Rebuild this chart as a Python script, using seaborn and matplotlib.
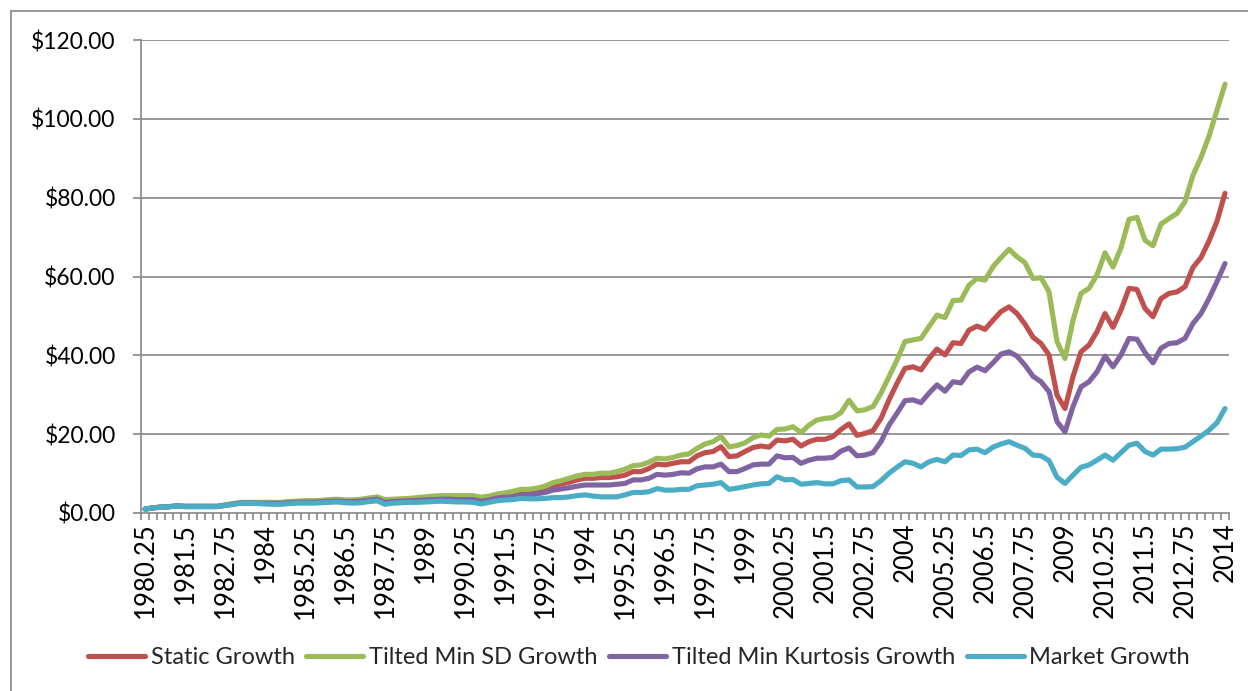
import matplotlib
matplotlib.use("Agg")
import matplotlib.pyplot as plt
from matplotlib.lines import Line2D
from matplotlib.ticker import FixedLocator, FuncFormatter
import seaborn as sns
import pandas as pd

# ---------------- data ----------------
quarters = [1980.25 + 0.25 * k for k in range(136)]
quarter_labels = [f"{q:g}" for q in quarters]

static_growth = [
    1.0, 1.3, 1.5, 1.6, 1.8, 1.7, 1.7, 1.7, 1.7, 1.7,
    2.0, 2.3, 2.6, 2.6, 2.6, 2.6, 2.6, 2.6, 2.8, 2.9,
    3.0, 3.0, 3.1, 3.2, 3.3, 3.2, 3.2, 3.3, 3.6, 3.9,
    3.1, 3.3, 3.4, 3.5, 3.7, 3.9, 4.0, 4.1, 4.1, 4.1,
    4.1, 4.1, 3.7, 4.0, 4.4, 4.7, 5.0, 5.5, 5.5, 5.8,
    6.3, 6.8, 7.4, 7.8, 8.4, 8.8, 8.8, 9.0, 9.0, 9.2,
    9.6, 10.5, 10.5, 11.3, 12.4, 12.2, 12.6, 13.0, 13.0, 14.5,
    15.3, 15.6, 16.8, 14.3, 14.5, 15.6, 16.6, 17.0, 16.7, 18.5,
    18.3, 18.7, 17.0, 18.1, 18.7, 18.7, 19.4, 21.2, 22.6, 19.7,
    20.2, 20.9, 24.0, 28.7, 32.9, 36.7, 37.1, 36.3, 39.2, 41.6,
    40.1, 43.2, 43.0, 46.4, 47.4, 46.6, 48.9, 51.1, 52.3, 50.6,
    47.9, 44.6, 43.0, 40.1, 29.9, 26.5, 34.6, 40.9, 42.6, 46.0,
    50.6, 47.1, 51.5, 57.0, 56.7, 51.9, 49.8, 54.4, 55.7, 56.1,
    57.4, 62.3, 64.8, 69.0, 74.0, 81.1,
]

tilted_min_sd_growth = [
    1.0, 1.3, 1.5, 1.6, 1.8, 1.7, 1.7, 1.7, 1.7, 1.7,
    2.0, 2.4, 2.7, 2.7, 2.7, 2.7, 2.7, 2.7, 2.9, 3.0,
    3.1, 3.1, 3.2, 3.4, 3.5, 3.3, 3.3, 3.5, 3.8, 4.1,
    3.4, 3.5, 3.6, 3.7, 3.9, 4.1, 4.3, 4.4, 4.4, 4.4,
    4.4, 4.4, 4.0, 4.3, 4.8, 5.1, 5.5, 6.0, 6.0, 6.3,
    6.8, 7.7, 8.2, 8.8, 9.4, 9.8, 9.8, 10.1, 10.1, 10.5,
    11.1, 12.0, 12.2, 12.9, 13.9, 13.7, 14.1, 14.7, 15.0, 16.4,
    17.5, 18.1, 19.4, 16.8, 17.1, 17.8, 19.1, 19.8, 19.5, 21.2,
    21.3, 21.9, 20.4, 22.3, 23.6, 24.0, 24.2, 25.5, 28.6, 25.9,
    26.2, 27.0, 30.4, 34.6, 38.8, 43.5, 43.9, 44.3, 47.3, 50.2,
    49.6, 53.9, 54.0, 57.8, 59.5, 59.1, 62.5, 64.8, 66.9, 65.0,
    63.5, 59.5, 59.7, 56.1, 43.5, 39.2, 48.9, 55.7, 57.0, 60.4,
    66.0, 62.4, 67.3, 74.5, 75.0, 69.2, 67.8, 73.3, 74.7, 76.0,
    79.0, 85.7, 90.2, 95.6, 102.2, 108.8,
]

tilted_min_kurtosis_growth = [
    1.0, 1.3, 1.5, 1.6, 1.8, 1.65, 1.65, 1.65, 1.65, 1.65,
    1.95, 2.25, 2.55, 2.55, 2.5, 2.5, 2.45, 2.45, 2.6, 2.7,
    2.75, 2.75, 2.85, 2.95, 3.05, 2.9, 2.9, 3.0, 3.3, 3.5,
    2.7, 2.9, 3.0, 3.1, 3.2, 3.3, 3.4, 3.5, 3.5, 3.4,
    3.4, 3.4, 3.0, 3.3, 3.8, 4.0, 4.1, 4.5, 4.5, 4.9,
    5.2, 5.8, 6.1, 6.4, 6.8, 7.1, 7.1, 7.1, 7.1, 7.3,
    7.5, 8.4, 8.4, 8.8, 9.8, 9.6, 9.8, 10.2, 10.1, 11.2,
    11.7, 11.7, 12.4, 10.5, 10.5, 11.3, 12.2, 12.4, 12.4, 14.5,
    14.0, 14.1, 12.6, 13.4, 13.9, 13.9, 14.1, 15.7, 16.5, 14.5,
    14.7, 15.3, 18.1, 22.3, 25.3, 28.5, 28.7, 28.0, 30.4, 32.5,
    30.9, 33.3, 33.0, 35.8, 37.0, 36.1, 38.1, 40.3, 40.9, 39.8,
    37.5, 34.7, 33.3, 30.8, 23.2, 20.6, 27.0, 32.0, 33.3, 35.8,
    39.8, 37.1, 40.1, 44.3, 44.1, 40.7, 38.1, 41.8, 43.0, 43.2,
    44.3, 48.1, 50.6, 54.4, 58.7, 63.3,
]

market_growth = [
    1.0, 1.3, 1.5, 1.6, 1.8, 1.6, 1.6, 1.6, 1.6, 1.6,
    1.9, 2.2, 2.5, 2.5, 2.4, 2.3, 2.2, 2.2, 2.4, 2.5,
    2.5, 2.5, 2.6, 2.7, 2.8, 2.6, 2.5, 2.6, 2.9, 3.1,
    2.2, 2.5, 2.6, 2.7, 2.7, 2.8, 2.9, 3.0, 2.9, 2.8,
    2.8, 2.7, 2.3, 2.7, 3.1, 3.3, 3.4, 3.7, 3.6, 3.6,
    3.7, 3.9, 3.9, 4.1, 4.4, 4.6, 4.3, 4.1, 4.1, 4.1,
    4.6, 5.2, 5.2, 5.4, 6.2, 5.8, 5.8, 6.0, 6.0, 6.9,
    7.1, 7.3, 7.7, 6.0, 6.3, 6.7, 7.1, 7.4, 7.5, 9.2,
    8.4, 8.5, 7.3, 7.5, 7.7, 7.4, 7.4, 8.2, 8.4, 6.6,
    6.6, 6.7, 8.2, 10.1, 11.6, 13.0, 12.6, 11.7, 13.0, 13.6,
    13.0, 14.7, 14.6, 16.0, 16.2, 15.3, 16.7, 17.5, 18.1, 17.2,
    16.4, 14.7, 14.5, 13.3, 9.1, 7.5, 9.6, 11.6, 12.2, 13.4,
    14.7, 13.4, 15.3, 17.2, 17.7, 15.6, 14.7, 16.2, 16.2, 16.3,
    16.7, 18.1, 19.5, 21.0, 22.9, 26.5,
]

series_names = ["Static Growth", "Tilted Min SD Growth",
                "Tilted Min Kurtosis Growth", "Market Growth"]
series_colors = ["#C0504D", "#9BBB59", "#8064A2", "#4BACC6"]
y_ticks = [0, 20, 40, 60, 80, 100, 120]

# ---------------- frame ----------------
rows = []
for name, vals in zip(series_names,
                      [static_growth, tilted_min_sd_growth,
                       tilted_min_kurtosis_growth, market_growth]):
    for k, v in enumerate(vals):
        rows.append({"pos": k, "quarter": quarter_labels[k], "value": v, "series": name})
df = pd.DataFrame(rows)

sns.set_style("white")
plt.rcParams["font.family"] = ["Lato", "DejaVu Sans"]

W, H = 1248, 691
fig = plt.figure(figsize=(W / 100, H / 100), dpi=100)
ax = fig.add_axes([141 / W, 1 - 513 / H, (1229 - 141) / W, (513 - 40) / H])

grid_col = "#868686"
for yv in y_ticks[1:]:
    ax.axhline(yv, color=grid_col, lw=1.2, zorder=0)

sns.lineplot(data=df, x="pos", y="value", hue="series", hue_order=series_names,
             palette=series_colors, linewidth=3.7, ax=ax, legend=True,
             solid_capstyle="round", solid_joinstyle="round", zorder=3)

n = len(quarters)
ax.set_xlim(-0.5, n - 0.5)
ax.set_ylim(0, 120)

ax.xaxis.set_major_locator(FixedLocator(list(range(0, n, 5))))
ax.set_xticklabels([quarter_labels[k] for k in range(0, n, 5)], rotation=90,
                   fontsize=18.5)
ax.xaxis.set_minor_locator(FixedLocator([k - 0.5 for k in range(n + 1)]))
ax.tick_params(axis="x", which="major", length=0, pad=7, colors="black")
ax.tick_params(axis="x", which="minor", length=5, width=1.2, color=grid_col,
               direction="out", bottom=True)

ax.set_yticks(y_ticks)
ax.yaxis.set_major_formatter(FuncFormatter(lambda v, p: f"${v:.2f}"))
ax.tick_params(axis="y", which="major", length=5.8, width=1.2, color=grid_col,
               labelsize=16.5, pad=12.5, labelcolor="black", left=True)

for s in ["top", "right"]:
    ax.spines[s].set_visible(False)
for s in ["left", "bottom"]:
    ax.spines[s].set_color(grid_col)
    ax.spines[s].set_linewidth(1.2)

ax.set_xlabel("")
ax.set_ylabel("")

handles, labels = ax.get_legend_handles_labels()
ax.get_legend().remove()
fig.legend(handles, labels, loc="center", ncol=4,
           bbox_to_anchor=(639 / W, 1 - 658 / H), frameon=False,
           fontsize=17, handlelength=2.4, handletextpad=0.25,
           columnspacing=0.5)

# outer chart-area border (left and top edges visible)
fig.add_artist(Line2D([11 / W, 11 / W], [0, 1 - 11 / H], transform=fig.transFigure,
                      color=grid_col, lw=1.2))
fig.add_artist(Line2D([11 / W, 1], [1 - 11 / H, 1 - 11 / H], transform=fig.transFigure,
                      color=grid_col, lw=1.2))

fig.savefig("out.png", dpi=100, facecolor="white")
